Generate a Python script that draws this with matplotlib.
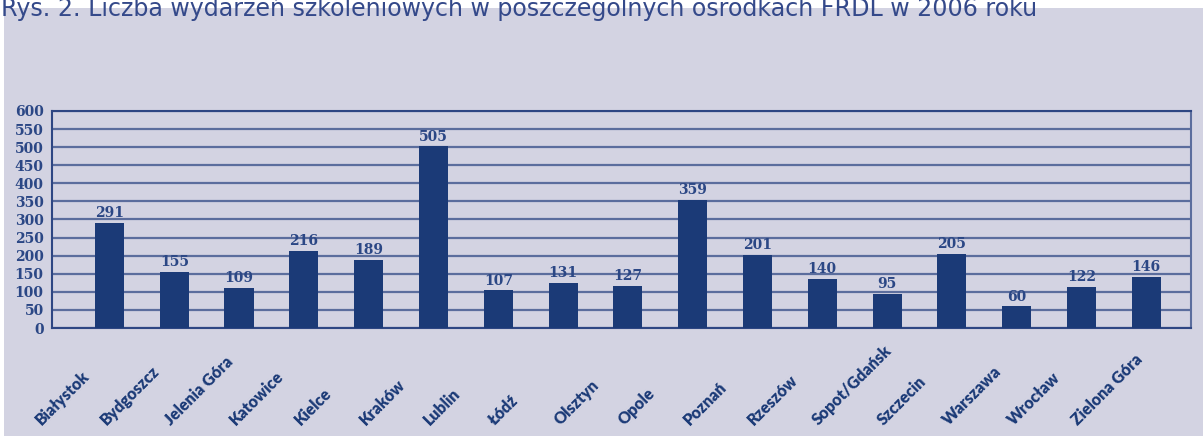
import matplotlib
matplotlib.use("Agg")
import matplotlib.pyplot as plt
from matplotlib.patches import Rectangle
from matplotlib.transforms import ScaledTranslation

# ---- data ----
title = "Rys. 2. Liczba wydarzeń szkoleniowych w poszczególnych ośrodkach FRDL w 2006 roku"
cities = ["Białystok", "Bydgoszcz", "Jelenia Góra", "Katowice", "Kielce", "Kraków",
          "Lublin", "Łódź", "Olsztyn", "Opole", "Poznań", "Rzeszów", "Sopot/Gdańsk",
          "Szczecin", "Warszawa", "Wrocław", "Zielona Góra"]
bar_heights = [291, 155, 110, 214, 188, 502, 104, 124, 117, 355, 203, 135, 94, 205, 60, 113, 141]
value_labels = [291, 155, 109, 216, 189, 505, 107, 131, 127, 359, 201, 140, 95, 205, 60, 122, 146]
y_ticks = list(range(0, 601, 50))

# ---- style ----
PANEL = "#d3d3e2"
BAR = "#1b3a77"
GRID = "#5b6d9d"
FRAME = "#2e4683"
TXT = "#2b4785"
TITLE_C = "#34498a"

W, H = 1203, 436
fig = plt.figure(figsize=(W / 100, H / 100), dpi=100, facecolor="white")
fig.patches.append(Rectangle((4 / W, 0), 1 - 4 / W, (H - 8) / H, transform=fig.transFigure,
                             facecolor=PANEL, edgecolor="none", zorder=-10))

ax = fig.add_axes([52 / W, (H - 328) / H, 1139 / W, 217 / H])
ax.set_zorder(2)
ax.set_facecolor("none")

x = list(range(len(cities)))
ax.bar(x, bar_heights, width=0.45, color=BAR, zorder=3)
ax.set_xlim(-0.887, 16.69)
ax.set_ylim(0, 600)
ax.set_yticks(y_ticks)
ax.set_yticklabels([str(v) for v in y_ticks], fontfamily="DejaVu Serif", fontweight="bold",
                   fontsize=10, color=TXT)
ax.tick_params(axis="y", length=0, pad=6)
ax.set_xticks([])
ax.yaxis.grid(True, color=GRID, linewidth=1.6, zorder=1)
ax.set_axisbelow(True)
for s in ax.spines.values():
    s.set_color(FRAME)
    s.set_linewidth(1.5)
ax.spines["right"].set_color(GRID)

# value labels
for xi, h, v in zip(x, bar_heights, value_labels):
    ax.annotate(str(v), (xi, h), xytext=(0, 2), textcoords="offset points",
                ha="center", va="bottom", fontfamily="DejaVu Serif", fontweight="bold",
                fontsize=10, color=TXT, zorder=4)

# rotated category labels
off = ScaledTranslation(-68 / 100, -(426 - 328) / 100, fig.dpi_scale_trans)
for xi, c in zip(x, cities):
    ax.text(xi, 0, c, transform=ax.get_xaxis_transform() + off, rotation=45,
            rotation_mode="anchor", ha="left", va="baseline", fontfamily="Lato",
            fontweight="heavy", fontsize=11.5, color=BAR, clip_on=False)

# title (partially cut at the top, as in reference)
t = fig.text(1 / W, (H - 16) / H, title, ha="left", va="baseline", fontfamily="DejaVu Sans",
             fontsize=16, color=TITLE_C, zorder=5)
fig.canvas.draw()
w = t.get_window_extent().width
t.set_fontsize(16 * 1040 / w)

fig.savefig("out.png", dpi=100, facecolor="white")
